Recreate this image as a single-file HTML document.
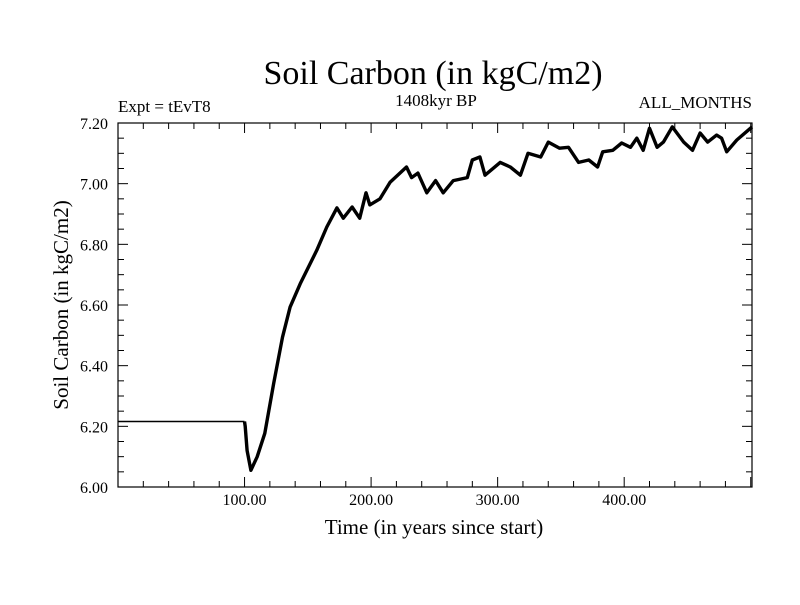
<!DOCTYPE html>
<html><head><meta charset="utf-8"><style>
body{margin:0;background:#fff}
svg text{font-family:"Liberation Serif",serif;fill:#000}
</style></head><body>
<svg id="chart" width="800" height="600" viewBox="0 0 800 600" xmlns="http://www.w3.org/2000/svg">
<rect width="800" height="600" fill="#fff"/>
<text x="433" y="84" font-size="34" text-anchor="middle">Soil Carbon (in kgC/m2)</text>
<text x="436" y="106" font-size="17" text-anchor="middle">1408kyr BP</text>
<text x="118" y="112" font-size="17">Expt = tEvT8</text>
<text x="752" y="108" font-size="17" text-anchor="end">ALL_MONTHS</text>
<text transform="translate(68,305) rotate(-90)" font-size="21" text-anchor="middle">Soil Carbon (in kgC/m2)</text>
<text x="434" y="534" font-size="21" text-anchor="middle">Time (in years since start)</text>
<g id="axes"></g>
<path id="series-flat" fill="none" stroke="#000" stroke-width="1.5"/>
<path id="series" fill="none" stroke="#000" stroke-width="3.4" stroke-linejoin="round"/>
</svg>
<script>
const years=[0,100,100.5,102,105,110,116,123,130,136,144,157,165,173,178,185,191,196,199,207,215,228,232,237,244,251,257,265,276,280,286,290,302,310,318,324,334,340,349,356,364,372,379,383,391,398,405,410,415,420,426,431,438,447,454,460,466,473,477,481,489,501];
const values=[6.216,6.216,6.2,6.12,6.055,6.10,6.177,6.342,6.494,6.593,6.67,6.78,6.857,6.92,6.886,6.923,6.886,6.97,6.93,6.95,7.005,7.055,7.02,7.035,6.97,7.01,6.97,7.01,7.02,7.078,7.088,7.028,7.07,7.055,7.028,7.10,7.088,7.137,7.117,7.12,7.07,7.078,7.055,7.105,7.11,7.134,7.12,7.15,7.11,7.183,7.12,7.137,7.187,7.137,7.11,7.167,7.137,7.16,7.15,7.105,7.144,7.187];
const xTicks=[100,200,300,400];
const xTickLabels=["100.00","200.00","300.00","400.00"];
const yTicks=[6.0,6.2,6.4,6.6,6.8,7.0,7.2];
const yTickLabels=["6.00","6.20","6.40","6.60","6.80","7.00","7.20"];
const L=118,R=752,T=123,B=487,X0=0,X1=501,Y0=6.0,Y1=7.2;
const sx=v=>L+(v-X0)/(X1-X0)*(R-L);
const sy=v=>B-(v-Y0)/(Y1-Y0)*(B-T);
const NS="http://www.w3.org/2000/svg";
const g=document.getElementById('axes');
function mk(tag,attrs){const e=document.createElementNS(NS,tag);for(const k in attrs)e.setAttribute(k,attrs[k]);g.appendChild(e);return e;}
const frame=mk('rect',{x:L,y:T,width:R-L,height:B-T,fill:'none',stroke:'#000','stroke-width':1.2});


for(let v=20;v<X1;v+=20){
  const major=v%100===0, len=major?10:6, x=sx(v);
  const t1=mk('line',{x1:x,y1:B,x2:x,y2:B-len,stroke:'#000'});
  
  
  const t2=mk('line',{x1:x,y1:T,x2:x,y2:T+len,stroke:'#000'});
  
  
}
for(let i=0;i<=24;i++){
  const v=Y0+i*0.05, major=i%4===0, len=major?10:6, y=sy(v);
  const t1=mk('line',{x1:L,y1:y,x2:L+len,y2:y,stroke:'#000'});
  
  
  const t2=mk('line',{x1:R,y1:y,x2:R-len,y2:y,stroke:'#000'});
  
  
}
xTicks.forEach((v,i)=>{
  const t=mk('text',{x:sx(v),y:505,'font-size':16,'text-anchor':'middle'});
  t.textContent=xTickLabels[i];
  
  
});
yTicks.forEach((v,i)=>{
  const t=mk('text',{x:108,y:sy(v)+6,'font-size':16,'text-anchor':'end'});
  t.textContent=yTickLabels[i];
  
  
});
const flatIdx=years.map((x,i)=>i).filter(i=>years[i]<=100);
const restIdx=years.map((x,i)=>i).filter(i=>years[i]>=100);
const toPath=idx=>idx.map((i,k)=>(k?'L':'M')+sx(years[i]).toFixed(1)+' '+sy(values[i]).toFixed(1)).join('');
document.getElementById('series-flat').setAttribute('d',toPath(flatIdx));
document.getElementById('series').setAttribute('d',toPath(restIdx));
</script>
</body></html>
